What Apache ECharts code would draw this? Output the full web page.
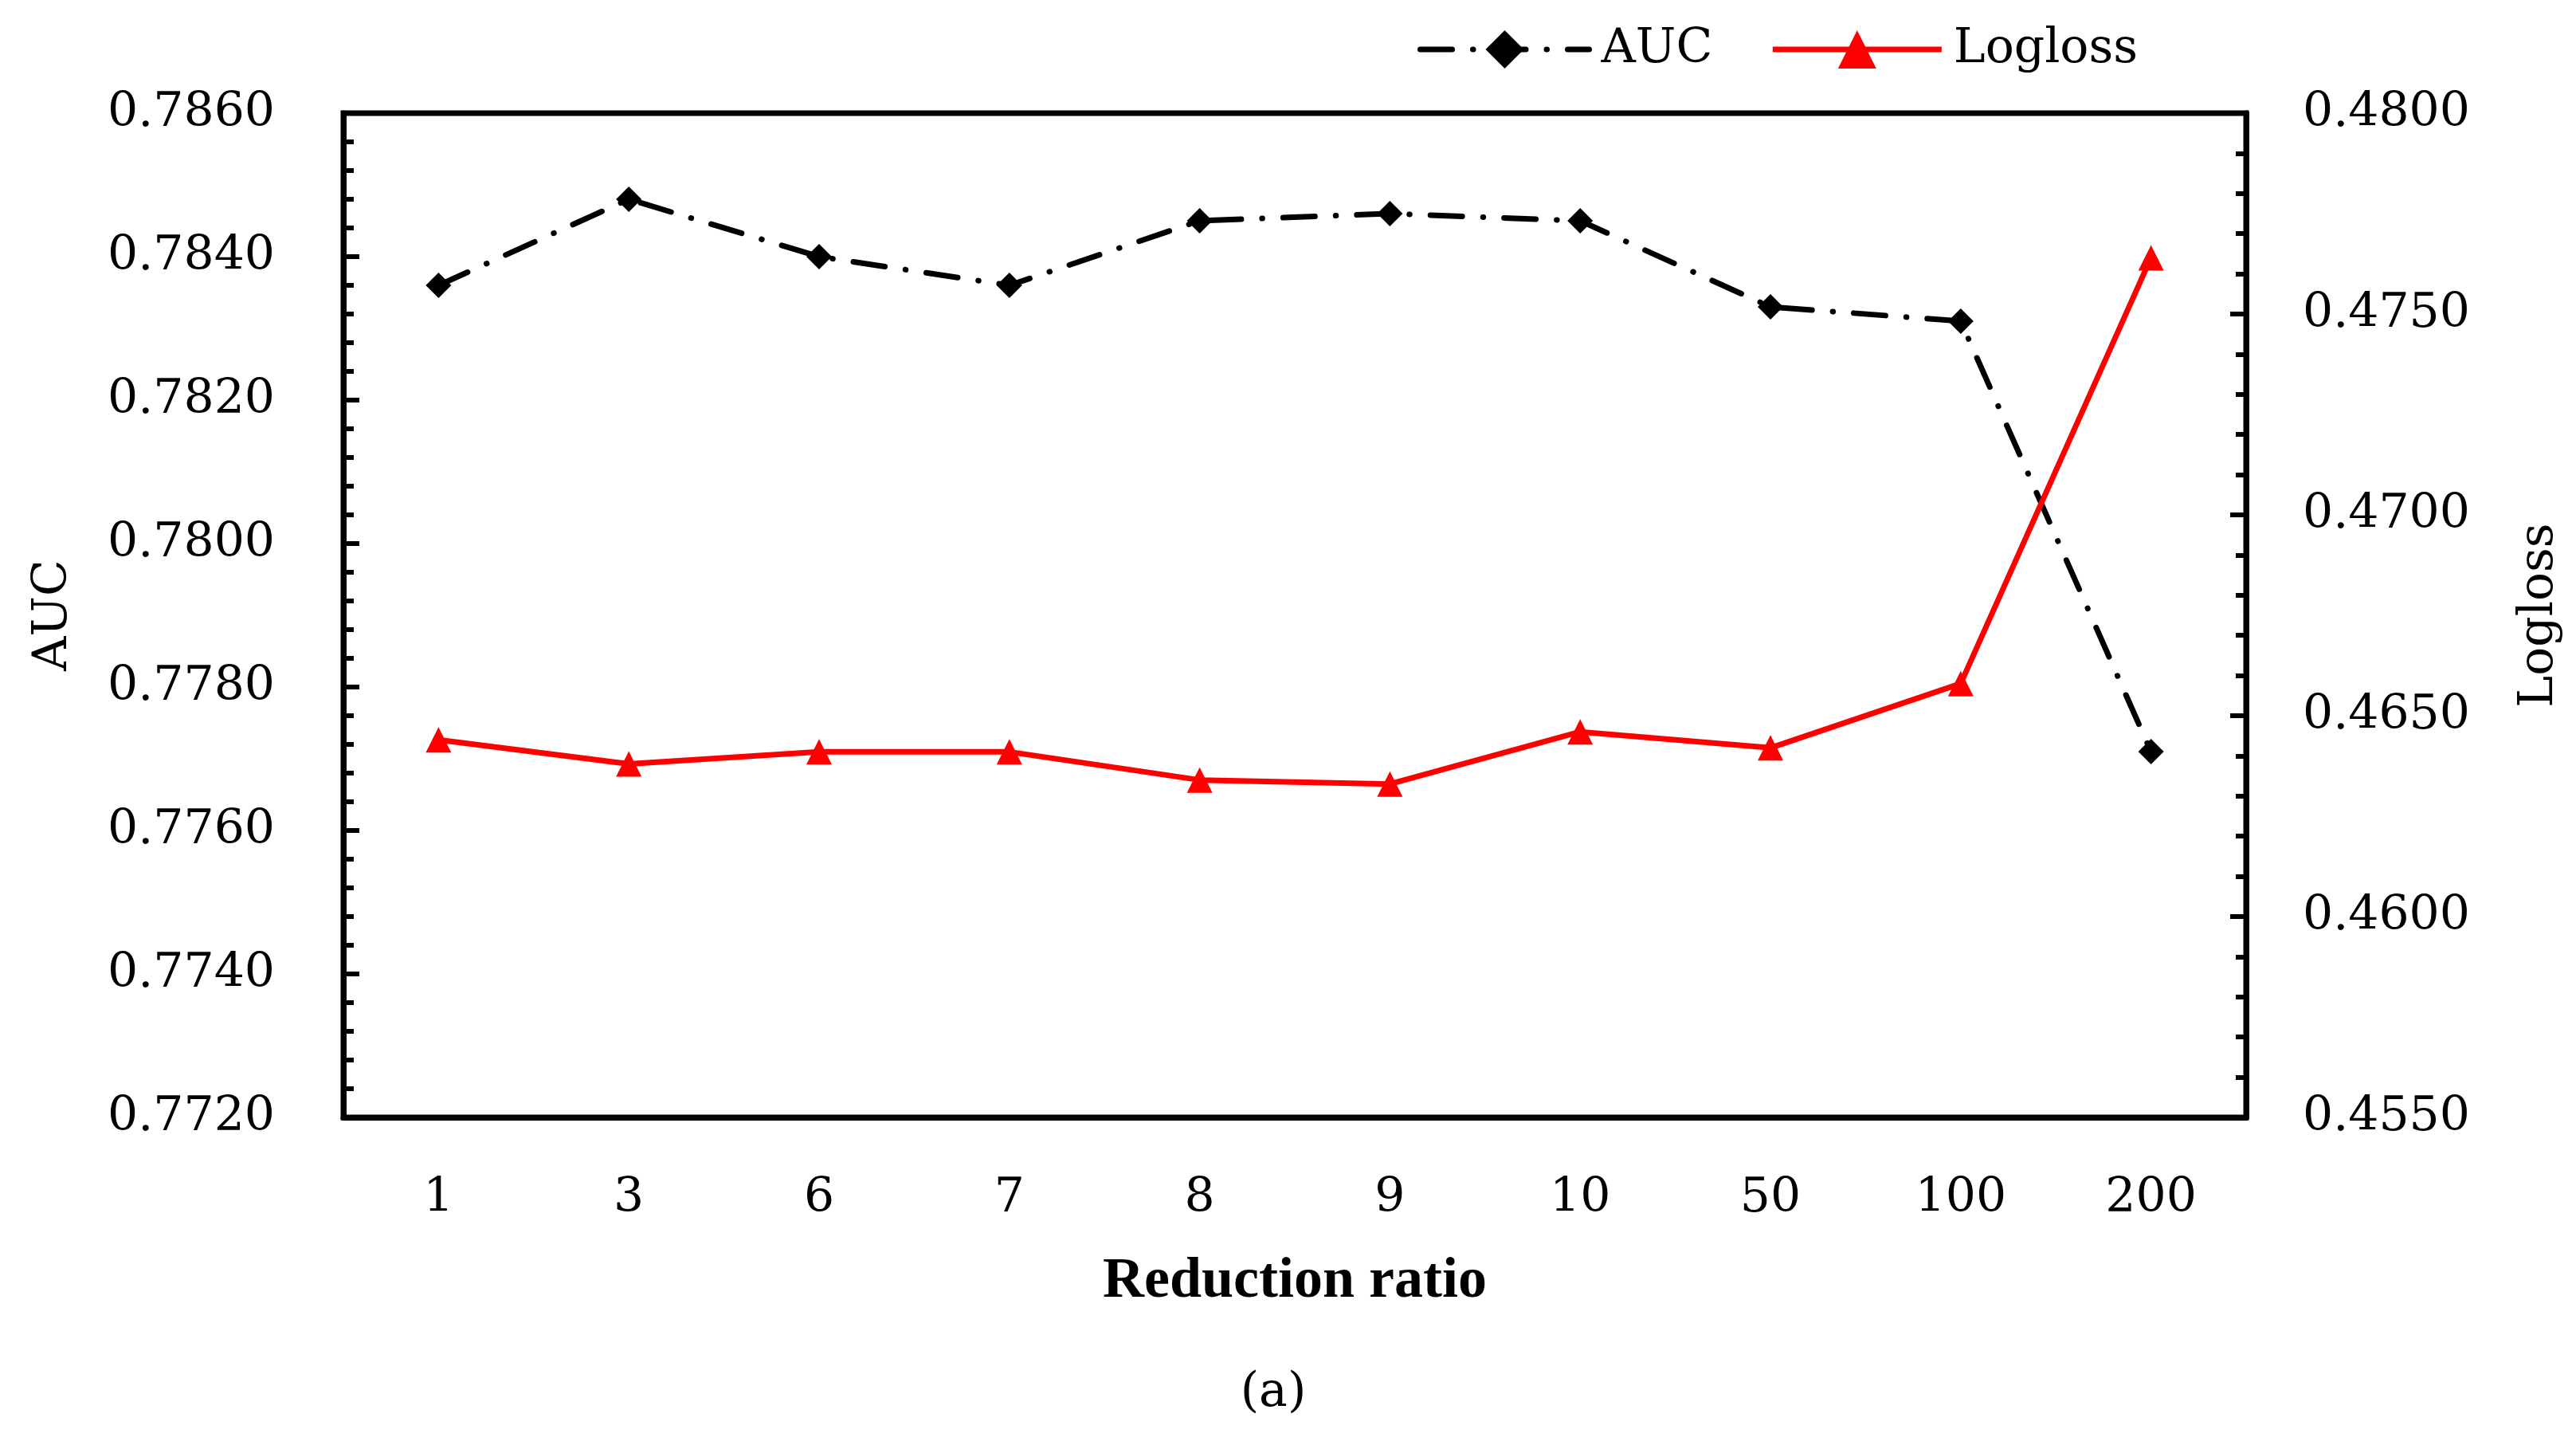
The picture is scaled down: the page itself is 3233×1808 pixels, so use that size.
<!DOCTYPE html>
<html><head><meta charset="utf-8">
<script src="https://cdn.jsdelivr.net/npm/echarts@6/dist/echarts.min.js"></script>
<style>html,body{margin:0;padding:0;background:#fff}#c{width:3233px;height:1808px}</style>
</head><body><div id="c"></div>
<script>
const categories = ['1', '3', '6', '7', '8', '9', '10', '50', '100', '200'];
const aucValues = [0.7836, 0.7848, 0.7840, 0.7836, 0.7845, 0.7846, 0.7845, 0.7833, 0.7831, 0.7771];
const loglossValues = [0.4644, 0.4638, 0.4641, 0.4641, 0.4634, 0.4633, 0.4646, 0.4642, 0.4658, 0.4764];
const seriesNames = ['AUC', 'Logloss'];
const axisTitles = { x: 'Reduction ratio', yLeft: 'AUC', yRight: 'Logloss' };
const caption = '(a)';

const serif = "'DejaVu Serif', serif";
const txt = { fontFamily: serif, fontSize: 60, color: '#000' };
const aucDash = [40, 26, 0.5, 26];

const chart = echarts.init(document.getElementById('c'), null, { renderer: 'canvas' });
const yCommon = {
  type: 'value',
  axisLine: { show: true, lineStyle: { color: '#000', width: 7 } },
  axisTick: { show: true, inside: true, length: 20, lineStyle: { color: '#000', width: 6 } },
  minorTick: { show: true, splitNumber: 5, length: 13, lineStyle: { color: '#000', width: 6 } },
  splitLine: { show: false },
  minorSplitLine: { show: false },
  nameLocation: 'middle',
  nameRotate: 90,
  nameTextStyle: txt
};
const option = {
  animation: false,
  backgroundColor: '#fff',
  grid: { left: 431, right: 414, top: 142, bottom: 406, show: true, borderColor: '#000', borderWidth: 7 },
  legend: {
    top: 27, left: 1774, itemWidth: 212, itemHeight: 60, itemGap: 72,
    textStyle: Object.assign({ padding: [0, 0, 0, 10] }, txt),
    data: [
      { name: seriesNames[0], lineStyle: { color: '#000', width: 7, type: aucDash, cap: 'round' } },
      { name: seriesNames[1], lineStyle: { color: '#ff0000', width: 7 } }
    ]
  },
  xAxis: {
    type: 'category', data: categories, boundaryGap: true,
    axisLine: { lineStyle: { color: '#000', width: 7 } },
    axisTick: { show: false },
    axisLabel: Object.assign({ margin: 72 }, txt),
    name: axisTitles.x, nameLocation: 'middle', nameGap: 170,
    nameTextStyle: { fontFamily: "'Liberation Serif', serif", fontWeight: 'bold', fontSize: 72, color: '#000' }
  },
  yAxis: [
    Object.assign({}, yCommon, {
      position: 'left', min: 0.772, max: 0.786, interval: 0.002,
      axisLabel: Object.assign({ margin: 86, formatter: v => v.toFixed(4) }, txt),
      name: axisTitles.yLeft, nameGap: 334
    }),
    Object.assign({}, yCommon, {
      position: 'right', min: 0.455, max: 0.48, interval: 0.005,
      axisLabel: Object.assign({ margin: 71, formatter: v => v.toFixed(4) }, txt),
      name: axisTitles.yRight, nameGap: 338
    })
  ],
  graphic: [{
    type: 'text', x: 1598, y: 1748,
    style: { text: caption, fontFamily: serif, fontSize: 60, fill: '#000', align: 'center', verticalAlign: 'middle' }
  }],
  series: [
    {
      name: seriesNames[0], type: 'line', yAxisIndex: 0, data: aucValues,
      symbol: 'diamond', symbolSize: 32,
      lineStyle: { color: '#000', width: 7, type: aucDash, cap: 'round' },
      itemStyle: { color: '#000' }
    },
    {
      name: seriesNames[1], type: 'line', yAxisIndex: 1, data: loglossValues,
      symbol: 'triangle', symbolSize: 32,
      lineStyle: { color: '#ff0000', width: 7 },
      itemStyle: { color: '#ff0000' }
    }
  ]
};
chart.setOption(option);
</script>
</body></html>
